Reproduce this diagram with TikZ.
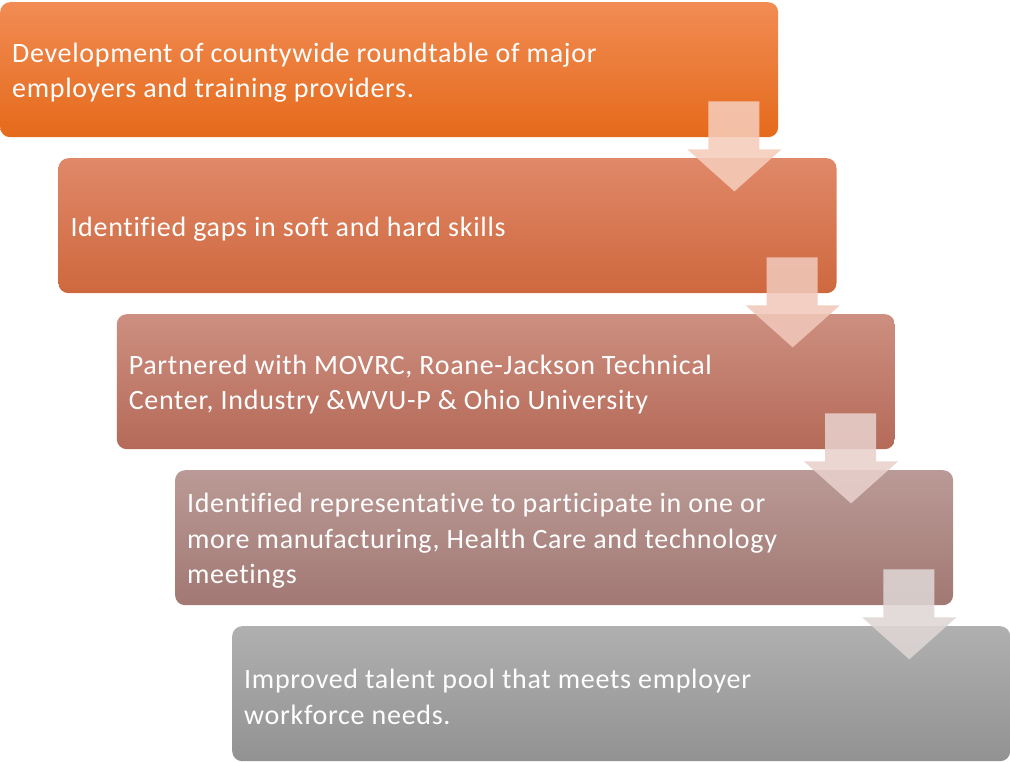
\documentclass[tikz,border=0pt]{standalone}
\usepackage{fontspec}
\setmainfont{Carlito}[Ligatures=NoCommon, LetterSpace=2.5]
\usetikzlibrary{calc}
\definecolor{t1}{RGB}{241,140,84}\definecolor{b1}{RGB}{229,106,27}
\definecolor{t2}{RGB}{224,136,104}\definecolor{b2}{RGB}{206,104,62}
\definecolor{t3}{RGB}{205,143,128}\definecolor{b3}{RGB}{181,106,88}
\definecolor{t4}{RGB}{186,154,150}\definecolor{b4}{RGB}{162,120,115}
\definecolor{t5}{RGB}{176,176,176}\definecolor{b5}{RGB}{146,146,146}
\definecolor{a1}{RGB}{245,204,186}
\definecolor{a2}{RGB}{240,200,186}
\definecolor{a3}{RGB}{232,208,204}
\definecolor{a4}{RGB}{222,214,213}
\tikzset{
  stepbox/.style={rectangle, rounded corners=10pt, minimum width=778pt, minimum height=135pt, anchor=north west, inner sep=0pt},
  steptext/.style={anchor=west, text=white, align=left, inner sep=0pt, font=\fontsize{28}{35.5}\selectfont},
  downarrow/.style={draw=none, fill opacity=0.88},
}
\begin{document}
\begin{tikzpicture}[x=1pt,y=-1pt]
\useasboundingbox (0,0) rectangle (1010,762);
\node[stepbox, top color=t1, bottom color=b1] (s1) at (0,2) {};
\node[stepbox, top color=t2, bottom color=b2] (s2) at (58.3,158) {};
\node[stepbox, top color=t3, bottom color=b3] (s3) at (116.6,314) {};
\node[stepbox, top color=t4, bottom color=b4] (s4) at (174.9,470) {};
\node[stepbox, top color=t5, bottom color=b5] (s5) at (232,626) {};
\node[steptext] (l1) at ($(s1.west)+(12,3)$) {Development of countywide roundtable of major\\employers and training providers.};
\node[steptext] (l2) at ($(s2.west)+(12,3)$) {Identified gaps in soft and hard skills};
\node[steptext] (l3) at ($(s3.west)+(12,3)$) {Partnered with MOVRC, Roane-Jackson Technical\\Center, Industry \&WVU-P \& Ohio University};
\node[steptext] (l4) at ($(s4.west)+(12,3)$) {Identified representative to participate in one or\\more manufacturing, Health Care and technology\\meetings};
\node[steptext] (l5) at ($(s5.west)+(12,3)$) {Improved talent pool that meets employer\\workforce needs.};
\foreach \i/\c in {1/a1,2/a2,3/a3,4/a4}{
  \fill[downarrow, fill=\c]
    ($(s\i.south east)+(-70,-36)$) -- ($(s\i.south east)+(-19,-36)$) --
    ($(s\i.south east)+(-19,12)$) -- ($(s\i.south east)+(3,12)$) --
    ($(s\i.south east)+(-44,54)$) -- ($(s\i.south east)+(-91,12)$) --
    ($(s\i.south east)+(-70,12)$) -- cycle;
}
\end{tikzpicture}
\end{document}
